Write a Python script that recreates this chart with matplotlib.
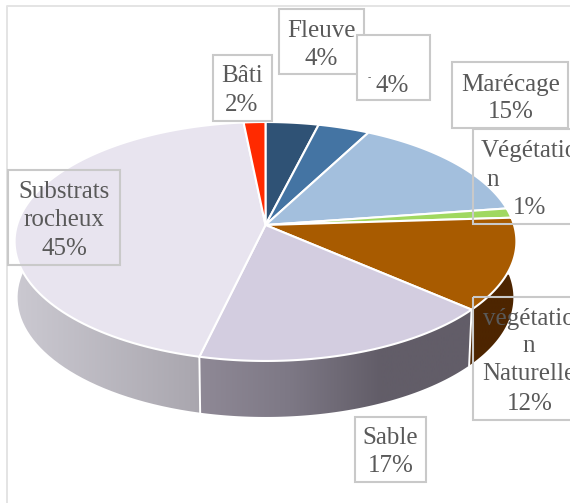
import numpy as np
import matplotlib
matplotlib.use('Agg')
import matplotlib.pyplot as plt
from matplotlib.patches import Polygon, Rectangle
from matplotlib.colors import LinearSegmentedColormap

# slices, clockwise starting from 12 o'clock
names = ['Fleuve', 'Sans nom', 'Marécage', 'Végétation', 'Végétation Naturelle', 'Sable', 'Substrats rocheux', 'Bâti']
values = [3.9, 3.8, 15.0, 1.3, 12.4, 17.3, 44.7, 1.6]
colors = ['#2f5275', '#4474a3', '#a3bfdd', '#a0d860', '#a85b00', '#d3cde0', '#e8e4ef', '#ff2a00']
side_colors = {4: ['#4d2500', '#4d2500'],
               5: ['#8f8996', '#7d7885', '#625d68', '#625d68'],
               6: ['#cbc9d1', '#a9a6ae']}

TEXT = '#595959'
BOX = '#c9c9c9'
FONT = 'Liberation Serif'
FS = 18

# perspective of the pie
CX, CY = 265.5, 225
HW, HH, K = 248.5, 117.2, 0.138
DEPTH = 56


def project(ang, r=1.0, drop=0.0):
    x = r * np.sin(ang)
    y = r * np.cos(ang)
    w = 1 + K * y
    shrink = 1 - 0.012 * (drop > 0)
    return CX + shrink * HW * x / w, CY - HH * y / w + drop


fig = plt.figure(figsize=(5.70, 5.03), dpi=100)
ax = fig.add_axes([0, 0, 1, 1])
ax.axis('off')

# chart frame, only left and top are visible
ax.plot([7, 7, 570], [503, 6, 6], color='#e4e4e4', lw=1.4)

edges = np.cumsum([0] + values) / sum(values) * 2 * np.pi

# sides first, the top face hides what goes behind
for i in side_colors:
    t = np.linspace(edges[i], edges[i + 1], 80)
    xt, yt = project(t)
    xb, yb = project(t, drop=DEPTH)
    pts = np.column_stack([np.r_[xt, xb[::-1]], np.r_[yt, yb[::-1]]])
    poly = Polygon(pts, closed=True, facecolor='none', edgecolor='none')
    ax.add_patch(poly)
    cmap = LinearSegmentedColormap.from_list('side%d' % i, side_colors[i])
    grad = np.linspace(0, 1, 256).reshape(1, -1)
    if i == 5 or i == 4:
        ext = [pts[:, 0].min(), pts[:, 0].max(), 503, 0]
    else:
        ext = [pts[:, 0].min(), 200, 503, 0]
    im = ax.imshow(grad, cmap=cmap, extent=ext, aspect='auto', zorder=1)
    im.set_clip_path(poly)
    # white line where two sides meet
    ax.plot([xt[0], xb[0]], [yt[0], yb[0]], color='white', lw=1.4, zorder=2)

# top face
for i, col in enumerate(colors):
    t = np.linspace(edges[i], edges[i + 1], 100)
    xs, ys = project(t)
    pts = np.column_stack([np.r_[CX, xs], np.r_[CY, ys]])
    ax.add_patch(Polygon(pts, closed=True, facecolor=col, edgecolor='white', lw=1.5, zorder=3))


def box(x0, y0, x1, y1, fill='none', z=5):
    ax.add_patch(Rectangle((x0, y0), x1 - x0, y1 - y0, facecolor=fill, edgecolor=BOX, lw=1.5, zorder=z))


def label(x, y, s, ha='center', z=6, size=FS):
    ax.text(x, y + 1.5, s, ha=ha, va='center', color=TEXT, family=FONT, fontsize=size, zorder=z)


box(279, 9, 364, 74, fill='white')
label(321.5, 29, 'Fleuve')
label(321.5, 57, '4%')

box(357, 35, 430, 100, fill='white', z=7)
label(369, 76, '-', size=7, z=8)
label(392, 84, '4%', z=8)

box(213, 55, 272, 121, fill='white')
label(242, 74, 'Bâti')
label(242, 103, '2%')

box(452, 62, 568, 128, fill='white')
label(511, 83, 'Marécage')
label(511, 110, '15%')

box(473, 129, 580, 224, z=7)
label(481, 150, 'Végétation', ha='left', z=8)
label(486, 178, 'n', ha='left', z=8)
label(530, 206, '1%', z=8)

box(473, 297, 580, 420)
label(483, 318, 'végétation', ha='left')
label(529, 345, 'n')
label(482, 373, 'Naturelle', ha='left')
label(530, 403, '12%')

box(355, 417, 426, 482, fill='white')
label(390.5, 437, 'Sable')
label(390.5, 464, '17%')

box(8, 170, 120, 265)
label(64, 190, 'Substrats')
label(64, 218, 'rocheux')
label(64, 247, '45%')

ax.set_xlim(0, 570)
ax.set_ylim(503, 0)

fig.savefig('out.png', dpi=100)
